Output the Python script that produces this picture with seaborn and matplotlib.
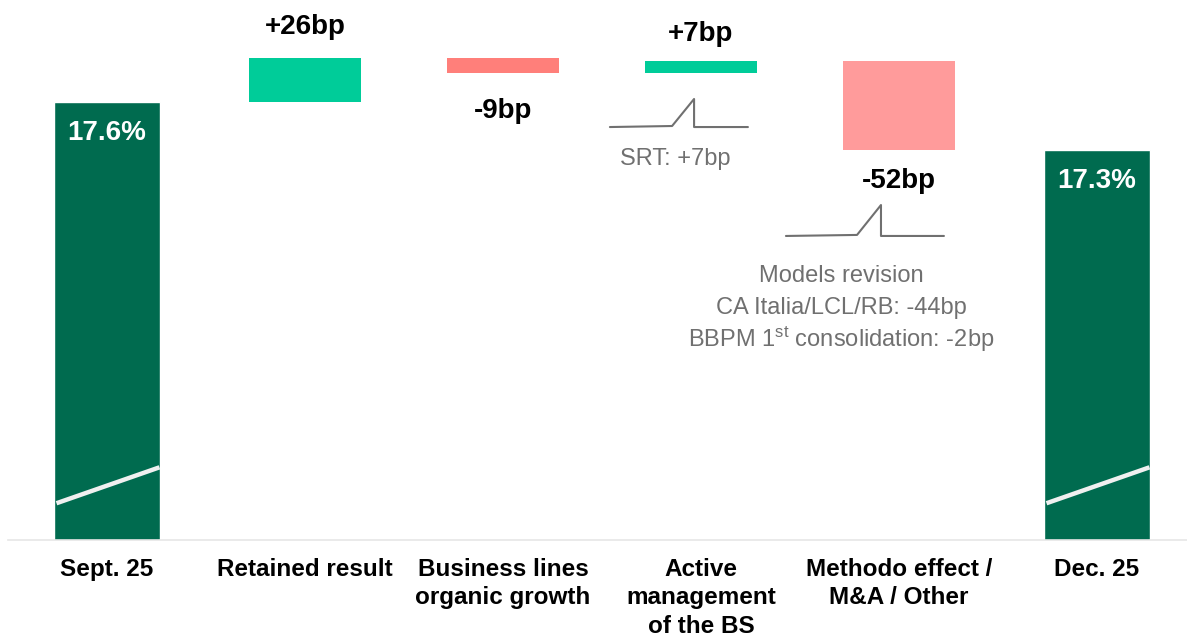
import numpy as np
import pandas as pd
import seaborn as sns
import matplotlib.pyplot as plt

# data (bp of CET1)
categories = ["Sept. 25", "Retained result", "Business lines\norganic growth",
              "Active\nmanagement\nof the BS", "Methodo effect /\nM&A / Other", "Dec. 25"]
start_bp = 1760
steps_bp = [26, -9, 7, -52]
end_bp = 1732
step_labels = ["+26bp", "-9bp", "+7bp", "-52bp"]
total_labels = ["17.6%", "17.3%"]
step_colors = ["#00CC99", "#FF7F7A", "#00CC99", "#FF9B9B"]
dark_green = "#006B4F"
gray = "#707070"

sns.set_style("white")
plt.rcParams['font.family'] = ['Liberation Sans', 'DejaVu Sans']
plt.rcParams['mathtext.default'] = 'regular'
plt.rcParams['text.color'] = 'black'
plt.rcParams['xtick.color'] = 'black'

fig = plt.figure(figsize=(11.87, 6.37), dpi=100)
ax = fig.add_axes([8 / 1187, 97 / 637, 1188 / 1187, 540 / 637])

ybase = 1504
px_per_bp = 1.71

# totals
totals = pd.DataFrame({"cat": categories, "value": [start_bp, np.nan, np.nan, np.nan, np.nan, end_bp]})
sns.barplot(data=totals, x="cat", y="value", color=dark_green, saturation=1,
            width=0.535, ax=ax, order=categories)

# floating steps
levels = np.cumsum([start_bp] + steps_bp)
for i, s in enumerate(steps_bp):
    lo = min(levels[i], levels[i + 1])
    ax.bar(i + 1, abs(s), bottom=lo, width=0.57, color=step_colors[i], linewidth=0)

ax.set_xlim(-0.5, 5.5)
ax.set_ylim(ybase, ybase + 540 / px_per_bp)

# axis break slashes on total bars
for xi in [0, 5]:
    ax.plot([xi - 0.255, xi + 0.265], [1525.5, 1546.5], color="#F0F0F0", lw=3.2,
            solid_capstyle="butt", zorder=3)

# labels
ax.text(0, start_bp - 18, total_labels[0], ha="center", va="center", color="white",
        fontsize=20, fontweight="bold")
ax.text(5, end_bp - 18, total_labels[1], ha="center", va="center", color="white",
        fontsize=20, fontweight="bold")
offsets = [18, 22, 16, 18]
for i, s in enumerate(steps_bp):
    top = max(levels[i], levels[i + 1])
    lo = min(levels[i], levels[i + 1])
    if s > 0:
        ax.text(i + 1, top + offsets[i], step_labels[i], ha="center", va="center",
                fontsize=20, fontweight="bold")
    else:
        ax.text(i + 1, lo - offsets[i], step_labels[i], ha="center", va="center",
                fontsize=20, fontweight="bold")

# bracket annotations
def bracket(xc, y0, left, bend, peak, right, peak_h):
    xs = [xc + left, xc + bend, xc + peak, xc + peak, xc + right]
    ys = [y0, y0 + 0.6, y0 + peak_h, y0, y0]
    ax.plot(xs, ys, color=gray, lw=1.5, zorder=3)

bracket(3, levels[3] - 38.5, -0.46, -0.146, -0.035, 0.237, 16.4)
bracket(4, levels[4] - 50.2, -0.571, -0.212, -0.091, 0.227, 18.1)

ax.text(2.87, levels[3] - 57, "SRT: +7bp", ha="center", va="center", color=gray, fontsize=17)
ax.text(3.71, levels[4] - 73.5, "Models revision", ha="center", va="center", color=gray, fontsize=17)
ax.text(3.71, levels[4] - 92.2, "CA Italia/LCL/RB: -44bp", ha="center", va="center", color=gray, fontsize=17)
ax.text(3.71, levels[4] - 110.5, "BBPM 1$^{st}$ consolidation: -2bp", ha="center", va="center",
        color=gray, fontsize=17)

# axes styling
sns.despine(ax=ax, left=True)
ax.spines["bottom"].set_color("#E6E6E6")
ax.spines["bottom"].set_linewidth(1.2)
ax.set_yticks([])
ax.set_xlabel("")
ax.set_ylabel("")
ax.set_xticks(range(len(categories)))
ax.set_xticklabels(categories, fontsize=17.5, fontweight="bold", linespacing=1.3, va="top")
ax.set_xticks(np.arange(-0.5, 6, 1), minor=True)
ax.tick_params(axis="x", which="major", length=0, pad=13)
ax.tick_params(axis="x", which="minor", length=8, color="#E6E6E6", width=1.2, direction="out")

fig.savefig("out.png", dpi=100)
